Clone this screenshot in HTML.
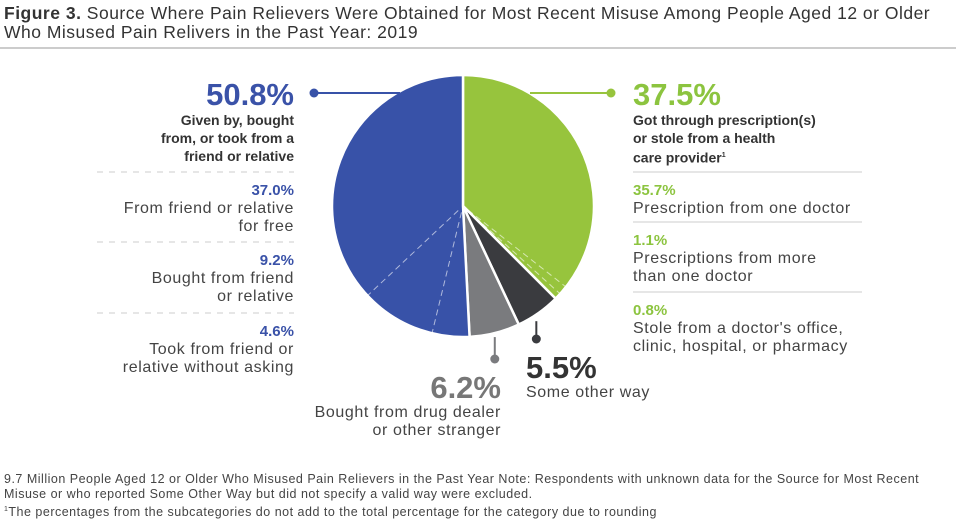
<!DOCTYPE html>
<html><head><meta charset="utf-8"><style>
body{margin:0;width:956px;height:519px;background:#fff;font-family:"Liberation Sans",sans-serif;color:#333;position:relative;overflow:hidden}
.a{position:absolute;white-space:nowrap}
.L{text-align:right}
.big{font-size:31px;font-weight:bold;line-height:32px}
.bl{font-size:14px;font-weight:bold;line-height:18px;color:#333}
.p{font-size:15px;font-weight:bold;line-height:18px}
.t{font-size:16px;line-height:18px;color:#444;letter-spacing:0.6px}
.blue{color:#3a52a8}.green{color:#8cc43f}.dk{color:#333}
</style></head><body>
<div class="a" style="left:4px;top:4px;font-size:17.5px;line-height:19px;color:#333;letter-spacing:0.5px"><b>Figure 3.</b> Source Where Pain Relievers Were Obtained for Most Recent Misuse Among People Aged 12 or Older<br>Who Misused Pain Relivers in the Past Year: 2019</div>
<div class="a" style="left:0;top:47px;width:956px;height:2px;background:#ccc"></div>
<svg class="a" style="left:0;top:0" width="956" height="519" id="svg"></svg>

<div class="a L" style="right:662px;top:79px"><div class="big blue">50.8%</div><div class="bl">Given by, bought<br>from, or took from a<br>friend or relative</div></div>
<div class="a L" style="right:662px;top:182px"><div class="p blue">37.0%</div><div class="t">From friend or relative<br>for free</div></div>
<div class="a L" style="right:662px;top:252px"><div class="p blue">9.2%</div><div class="t">Bought from friend<br>or relative</div></div>
<div class="a L" style="right:662px;top:323px"><div class="p blue">4.6%</div><div class="t">Took from friend or<br>relative without asking</div></div>

<div class="a" style="left:633px;top:79px"><div class="big green">37.5%</div><div class="bl">Got through prescription(s)<br>or stole from a health<br>care provider<sup style="font-size:7px">1</sup></div></div>
<div class="a" style="left:633px;top:182px"><div class="p green">35.7%</div><div class="t">Prescription from one doctor</div></div>
<div class="a" style="left:633px;top:232px"><div class="p green">1.1%</div><div class="t">Prescriptions from more<br>than one doctor</div></div>
<div class="a" style="left:633px;top:302px"><div class="p green">0.8%</div><div class="t">Stole from a doctor's office,<br>clinic, hospital, or pharmacy</div></div>

<div class="a L" style="right:455px;top:372px"><div class="big" style="color:#777">6.2%</div><div class="t">Bought from drug dealer<br>or other stranger</div></div>
<div class="a" style="left:526px;top:352px"><div class="big dk">5.5%</div><div class="t">Some other way</div></div>

<div class="a" style="left:4px;top:472px;font-size:12.5px;line-height:15px;color:#444;letter-spacing:0.5px">9.7 Million People Aged 12 or Older Who Misused Pain Relievers in the Past Year Note: Respondents with unknown data for the Source for Most Recent<br>Misuse or who reported Some Other Way but did not specify a valid way were excluded.<br><sup style="font-size:7px">1</sup>The percentages from the subcategories do not add to the total percentage for the category due to rounding</div>
<script>
const categories=["Prescription","Other way","Drug dealer","Friend or relative"];
const values=[37.5,5.5,6.2,50.8];
const colors=["#97c43d","#3a3b3f","#7a7b7e","#3852a8"];
const greenSubs=[35.7,1.1,0.8];
const blueSubs=[4.6,9.2,37.0];
const svg=document.getElementById('svg');const NS="http://www.w3.org/2000/svg";
const cx=463,cy=206,r=131;
const total=values.reduce((a,b)=>a+b,0);
function pt(p,rr){const a=p/total*2*Math.PI;return [cx+rr*Math.sin(a),cy-rr*Math.cos(a)];}
function mk(t,at){const e=document.createElementNS(NS,t);for(const k in at)e.setAttribute(k,at[k]);svg.appendChild(e);return e;}
let acc=0;const starts=[];
values.forEach((v,i)=>{starts.push(acc);const s=pt(acc,r),e=pt(acc+v,r);const lg=v/total>0.5?1:0;
const el=mk('path',{d:`M${cx},${cy}L${s[0]},${s[1]}A${r},${r} 0 ${lg} 1 ${e[0]},${e[1]}Z`,fill:colors[i],stroke:'#fff','stroke-width':2.5});


acc+=v;});
function dash(p){const s=pt(p,r*0.05),e=pt(p,r);const l=mk('line',{x1:s[0],y1:s[1],x2:e[0],y2:e[1],stroke:'#fff','stroke-opacity':0.6,'stroke-width':1,'stroke-dasharray':'6 4'});

}
let g=0;greenSubs.slice(0,2).forEach(v=>{g+=v;dash(starts[0]+g*values[0]/greenSubs.reduce((a,b)=>a+b,0));});
let b=0;blueSubs.slice(0,2).forEach(v=>{b+=v;dash(starts[3]+b*values[3]/blueSubs.reduce((a,b)=>a+b,0));});
function leader(x1,y1,x2,y2,c){mk('line',{x1,y1,x2,y2,stroke:c,'stroke-width':2});mk('circle',{cx:x2,cy:y2,r:4.5,fill:c});}
leader(400,93,314,93,colors[3]);
leader(530,93,611,93,colors[0]);
const po=pt(starts[1]+values[1]/2,r);leader(po[0]-2,po[1]+8,po[0]-2,339,colors[1]);
const pg=pt(starts[2]+values[2]/2,r);leader(pg[0],pg[1]+4,pg[0],359,colors[2]);
[[97,172],[97,242],[97,313]].forEach(([x,y])=>{mk('line',{x1:x,y1:y,x2:294,y2:y,stroke:'#ccc','stroke-width':1,'stroke-dasharray':'6 6'});});
[172,222,292].forEach(y=>{mk('line',{x1:633,y1:y,x2:862,y2:y,stroke:'#ccc','stroke-width':1});});
</script>
</body></html>
